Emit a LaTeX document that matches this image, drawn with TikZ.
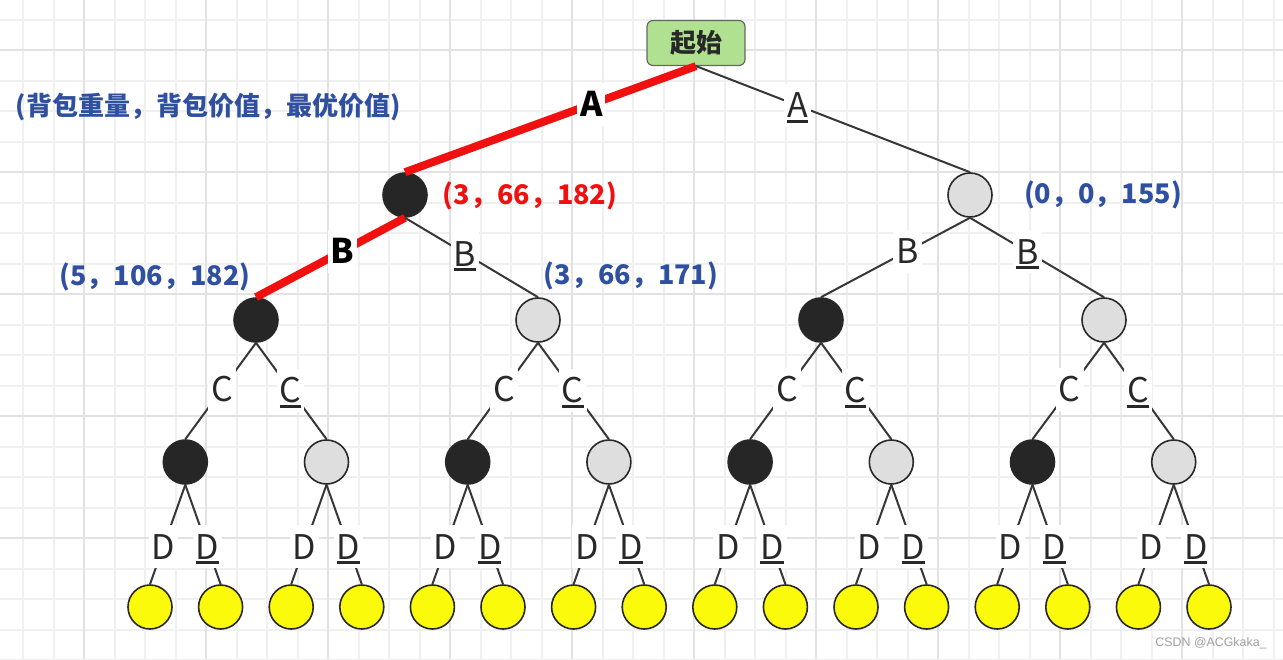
\documentclass[tikz,border=0pt]{standalone}
\usepackage{fontspec}
\setmainfont{Noto Sans CJK SC}
\newfontfamily\wmfont{Liberation Sans}
\definecolor{gridminor}{RGB}{240,240,240}
\definecolor{gridmajor}{RGB}{226,226,226}
\definecolor{edgegray}{RGB}{55,55,55}
\definecolor{hired}{RGB}{240,16,16}
\definecolor{numblue}{RGB}{47,79,160}
\definecolor{nodeblack}{RGB}{38,38,38}
\definecolor{nodegray}{RGB}{222,222,222}
\definecolor{leafyellow}{RGB}{250,250,10}
\definecolor{rootgreen}{RGB}{176,225,145}
\definecolor{txtdark}{RGB}{40,40,40}
\newcommand\myul[1]{\setbox0\hbox{#1}\rlap{\rule[-2.5pt]{\wd0}{1.5pt}}\box0}
\begin{document}
\begin{tikzpicture}[x=0.5pt,y=-0.5pt,
 minorline/.style={gridminor,line width=1pt},
 majorline/.style={gridmajor,line width=1.2pt},
 dot/.style={circle,draw=txtdark,line width=0.8pt,minimum size=22pt,inner sep=0pt},
 blk/.style={dot,fill=nodeblack},
 gry/.style={dot,fill=nodegray},
 leaf/.style={dot,fill=leafyellow},
 rootbox/.style={rectangle,rounded corners=3pt,draw=black!60,line width=0.6pt,fill=rootgreen,minimum width=49pt,minimum height=22.5pt,font=\fontsize{13}{15}\selectfont\bfseries,text=txtdark},
 link/.style={edgegray,line width=1pt},
 hot/.style={hired,line width=4pt},
 lab/.style={fill=white,text=txtdark,font=\fontsize{17}{20}\selectfont,inner xsep=1.5pt,inner ysep=1.5pt,text height=15.5pt,text depth=3pt},
 hotlab/.style={lab,font=\fontsize{17}{20}\selectfont\bfseries,text=black},
 note/.style={font=\fontsize{13.5}{16}\selectfont\bfseries,inner sep=0pt},
]
\useasboundingbox (0,0) rectangle (1283,659);
\fill[white] (0,0) rectangle (1283,659);
% grid
\foreach \k in {0,...,41} \draw[minorline] ({23+30.5*\k},0) -- ({23+30.5*\k},659);
\foreach \k in {0,...,21} \draw[minorline] (0,{19.5+30.5*\k}) -- (1283,{19.5+30.5*\k});
\foreach \k in {0,...,9} \draw[majorline] ({84+122*\k},0) -- ({84+122*\k},659);
\foreach \k in {0,...,4} \draw[majorline] (0,{50+122*\k}) -- (1283,{50+122*\k});
% tree nodes
\node[rootbox] (r) at (696,43) {起始};
\node[blk] (a0) at (405,195) {};
\node[gry] (a1) at (970,195) {};
\node[blk] (b0) at (256,320) {};
\node[gry] (b1) at (538,320) {};
\node[blk] (b2) at (821,320) {};
\node[gry] (b3) at (1104,320) {};
\foreach \i in {0,...,7} {
  \pgfmathtruncatemacro\odd{mod(\i,2)}
  \ifnum\odd=0
    \node[blk] (c\i) at ({185.3+141.2*\i},462) {};
  \else
    \node[gry] (c\i) at ({185.3+141.2*\i},462) {};
  \fi
}
\foreach \i in {0,...,15} \node[leaf] (d\i) at ({150+70.6*\i},607) {};
% edges
\draw[hot] (r.south) -- node[hotlab,pos=0.36]{A} (a0.north);
\draw[link] (r.south) -- node[lab,pos=0.37]{\myul{A}} (a1.north);
\draw[hot] (a0.south) -- node[hotlab,pos=0.42]{B} (b0.north);
\draw[link] (a0.south) -- node[lab,pos=0.45]{\myul{B}} (b1.north);
\draw[link] (a1.south) -- node[lab,pos=0.42]{B} (b2.north);
\draw[link] (a1.south) -- node[lab,pos=0.43]{\myul{B}} (b3.north);
\foreach \p in {0,...,3} {
  \pgfmathtruncatemacro\lc{2*\p}
  \pgfmathtruncatemacro\rc{2*\p+1}
  \draw[link] (b\p.south) -- node[lab,pos=0.48]{C} (c\lc.north);
  \draw[link] (b\p.south) -- node[lab,pos=0.49]{\myul{C}} (c\rc.north);
}
\foreach \p in {0,...,7} {
  \pgfmathtruncatemacro\lc{2*\p}
  \pgfmathtruncatemacro\rc{2*\p+1}
  \draw[link] (c\p.south) -- node[lab,pos=0.625]{D} (d\lc.north);
  \draw[link] (c\p.south) -- node[lab,pos=0.625]{\myul{D}} (d\rc.north);
}
% annotations
\node[note,text=numblue,font=\fontsize{13}{15}\selectfont\bfseries] (hdr) at (208,107) {(背包重量，背包价值，最优价值)};
\node[note,text=hired] (n1) at (530,196) {(3，66，182)};
\node[note,text=numblue] (n2) at (155,277) {(5，106，182)};
\node[note,text=numblue] (n3) at (631,276) {(3，66，171)};
\node[note,text=numblue] (n4) at (1103,195) {(0，0，155)};
\node[font=\wmfont\fontsize{6.2}{7}\selectfont,text=gray!75,inner sep=0pt] (wm) at (1211,643) {CSDN @ACGkaka\_};
\end{tikzpicture}
\end{document}
